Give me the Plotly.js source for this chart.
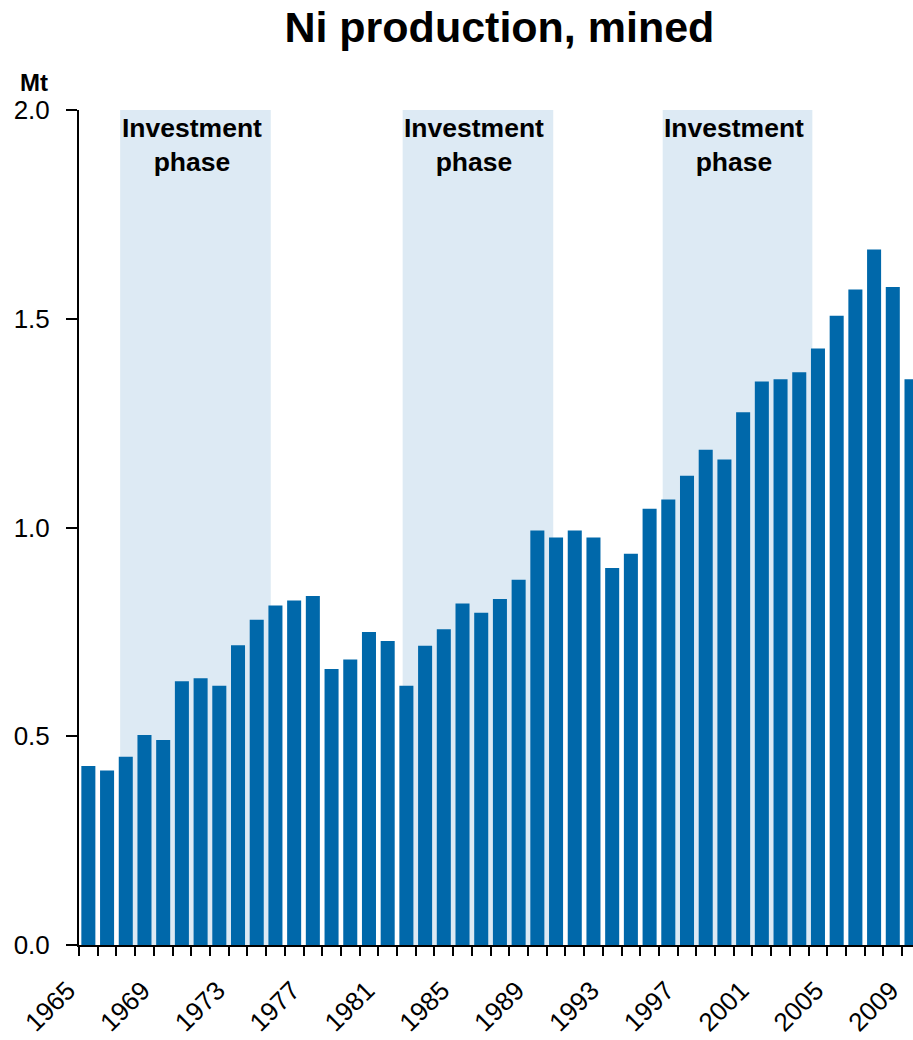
<!DOCTYPE html>
<html>
<head>
<meta charset="utf-8">
<script src="https://cdn.plot.ly/plotly-3.0.1.min.js"></script>
<style>html,body{margin:0;padding:0;background:#fff;}</style>
</head>
<body>
<div id="chart" style="width:913px;height:1040px;"></div>
<script>
// Years and mined nickel production (Mt)
const years = [1965,1966,1967,1968,1969,1970,1971,1972,1973,1974,1975,1976,1977,1978,1979,
  1980,1981,1982,1983,1984,1985,1986,1987,1988,1989,1990,1991,1992,1993,1994,
  1995,1996,1997,1998,1999,2000,2001,2002,2003,2004,2005,2006,2007,2008,2009];
const production = [0.429,0.418,0.451,0.503,0.491,0.632,0.639,0.621,0.718,0.779,0.813,0.825,0.836,0.661,0.684,
  0.750,0.728,0.621,0.717,0.756,0.818,0.796,0.829,0.875,0.993,0.976,0.993,0.976,0.903,0.937,
  1.045,1.067,1.124,1.186,1.163,1.276,1.350,1.355,1.372,1.429,1.507,1.570,1.666,1.576,1.355];
// Investment phases (years)
const phaseStart = [1966.7, 1981.8, 1995.7];
const phaseEnd = [1974.75, 1989.85, 2003.7];
const phaseLabel = ["Investment<br>phase", "Investment<br>phase", "Investment<br>phase"];
// Tick labels
const xTickLabels = ["1965","1969","1973","1977","1981","1985","1989","1993","1997","2001","2005","2009"];
const yTickVals = [0, 0.5, 1.0, 1.5, 2.0];

const FONT = "Liberation Sans, Arial, Helvetica, sans-serif";
const barColor = "rgb(0,104,170)";
const shadeColor = "rgb(221,234,244)";

// Geometry (pixels): paper area starts at marginL; the bar axis starts at axisL
const W = 913, marginL = 50, axisL = 79;
const plotW = W - marginL;
const xRange = [1964.5, 2009.08];
const pxPerYear = (W - axisL) / (xRange[1] - xRange[0]);
const labelShift = 1.1; // tick labels sit left of bar centres (years)
const x2Start = xRange[0] + labelShift - (axisL - marginL) / pxPerYear;
const x2Range = [x2Start, x2Start + plotW / pxPerYear];
const domStart = (axisL - marginL) / plotW;

const shapes = phaseStart.map((s, i) => ({
  type: "rect", xref: "x", yref: "y", x0: s, x1: phaseEnd[i], y0: 0, y1: 2.0,
  fillcolor: shadeColor, line: {width: 0}, layer: "below"
}));

const annotations = phaseLabel.map((t, i) => ({
  text: t, xref: "x", yref: "paper",
  x: (phaseStart[i] + phaseEnd[i]) / 2 - 0.2, y: 0.999,
  xanchor: "center", yanchor: "top", showarrow: false, align: "center",
  font: {family: FONT, size: 26.5, color: "#000", weight: 700}
}));
annotations.push({
  text: "Mt", xref: "paper", yref: "paper", x: (18 - marginL) / plotW, y: 1.0335,
  xanchor: "left", yanchor: "middle", showarrow: false,
  font: {family: FONT, size: 24, color: "#000", weight: 700}
});

const bars = {
  type: "bar", x: years, y: production,
  marker: {color: barColor, line: {width: 0}},
  hoverinfo: "x+y"
};
const labelAxisHolder = {
  type: "scatter", x: [], y: [], xaxis: "x2", yaxis: "y",
  showlegend: false, hoverinfo: "skip"
};

const layout = {
  width: 913, height: 1040,
  margin: {l: marginL, r: 0, t: 110, b: 95, pad: 0},
  paper_bgcolor: "#fff", plot_bgcolor: "rgba(0,0,0,0)",
  font: {family: FONT, color: "#000"},
  title: {
    text: "Ni production, mined", xref: "container", x: 0.547, xanchor: "center",
    yref: "container", y: 0.974, yanchor: "middle",
    font: {family: FONT, size: 43, color: "#000", weight: 700}
  },
  bargap: 0.25,
  showlegend: false,
  xaxis: {
    type: "linear", range: xRange, domain: [domStart, 1], anchor: "y",
    showticklabels: false, ticks: "",
    minor: {ticks: "outside", tickmode: "linear", tick0: 1964.5, dtick: 1, ticklen: 9, tickwidth: 2, tickcolor: "#000", showgrid: false},
    showline: true, linecolor: "#000", linewidth: 2,
    showgrid: false, zeroline: false, fixedrange: true
  },
  xaxis2: {
    type: "linear", anchor: "y", side: "bottom", domain: [0, 1],
    range: x2Range,
    tickmode: "array", tickvals: xTickLabels.map(Number), ticktext: xTickLabels,
    ticks: "", tickangle: -45, tickfont: {family: FONT, size: 26, color: "#000"},
    ticklabelstandoff: 24,
    showline: false, showgrid: false, zeroline: false, fixedrange: true
  },
  yaxis: {
    range: [0, 2.0], anchor: "x", tickmode: "array", tickvals: yTickVals, tickformat: ".1f",
    ticks: "outside", ticklen: 11, tickwidth: 2, tickcolor: "#000",
    tickfont: {family: FONT, size: 26, color: "#000"},
    ticklabelstandoff: 11,
    showline: true, linecolor: "#000", linewidth: 2,
    showgrid: false, zeroline: false, fixedrange: true
  },
  shapes: shapes,
  annotations: annotations
};

Plotly.newPlot("chart", [bars, labelAxisHolder], layout, {displayModeBar: false, staticPlot: true});
</script>
</body>
</html>
